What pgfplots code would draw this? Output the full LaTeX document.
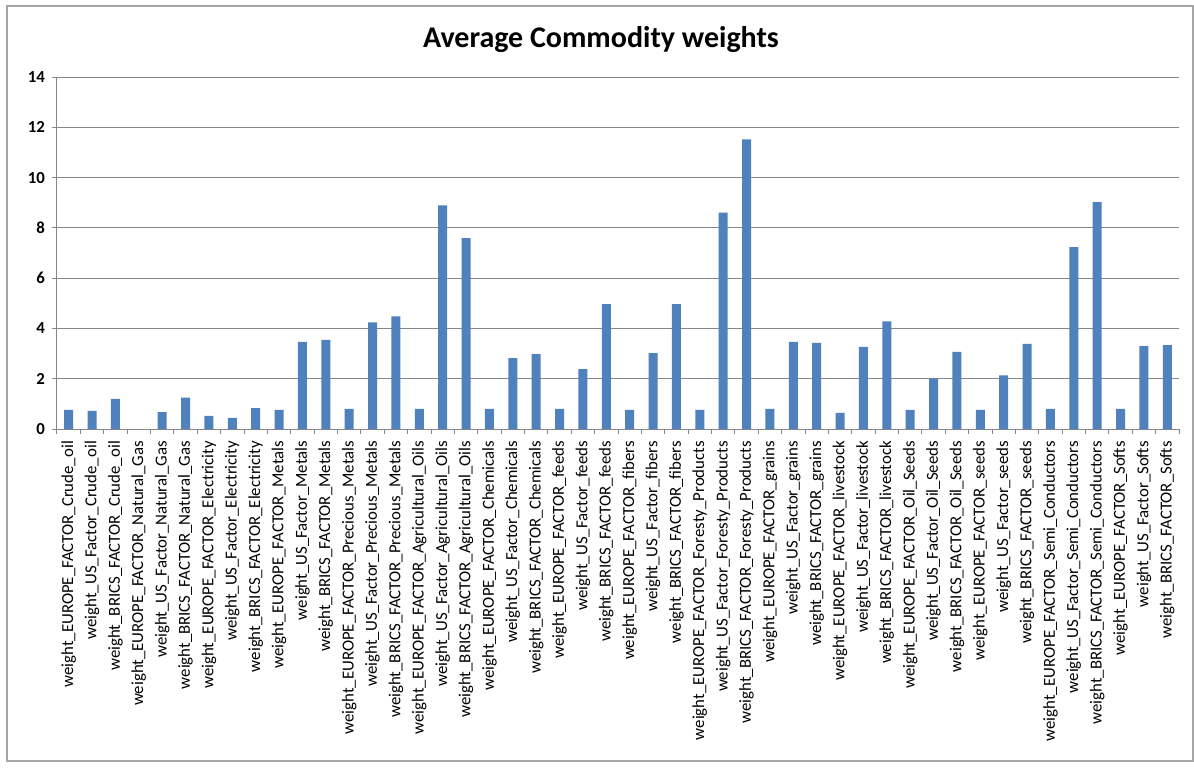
\documentclass[border=0pt]{standalone}
\usepackage{pgfplots}
\pgfplotsset{compat=1.18}
\usepackage{pgfplotstable}
\usepackage{fontspec}
\setmainfont{Carlito}
\definecolor{barblue}{HTML}{4F81BD}
\definecolor{gridgray}{HTML}{868686}

% average weight per factor, in the order of the x labels
\pgfplotstableread{
idx val
0 0.76
1 0.72
2 1.20
3 0
4 0.67
5 1.25
6 0.52
7 0.44
8 0.83
9 0.76
10 3.47
11 3.55
12 0.80
13 4.24
14 4.48
15 0.80
16 8.89
17 7.59
18 0.80
19 2.82
20 2.98
21 0.80
22 2.38
23 4.97
24 0.76
25 3.02
26 4.97
27 0.76
28 8.61
29 11.52
30 0.80
31 3.47
32 3.43
33 0.64
34 3.27
35 4.28
36 0.76
37 2.00
38 3.07
39 0.76
40 2.13
41 3.39
42 0.80
43 7.23
44 9.02
45 0.80
46 3.30
47 3.34
}\weights

\begin{document}
\begin{tikzpicture}
\path[fill=white] (-28.5pt,-169pt) rectangle (568.5pt,214.5pt);
\draw[gray!70, line width=0.6pt] (-25pt,-166pt) rectangle (568pt,211.5pt);
\begin{axis}[
  at={(0,0)}, anchor=south west,
  scale only axis,
  width=561pt, height=176pt,
  xmin=-0.5, xmax=47.5,
  ymin=0, ymax=14,
  ytick={0,2,...,14},
  xtick=data,
  xticklabels={
    weight\_EUROPE\_FACTOR\_Crude\_oil,
    weight\_US\_Factor\_Crude\_oil,
    weight\_BRICS\_FACTOR\_Crude\_oil,
    weight\_EUROPE\_FACTOR\_Natural\_Gas,
    weight\_US\_Factor\_Natural\_Gas,
    weight\_BRICS\_FACTOR\_Natural\_Gas,
    weight\_EUROPE\_FACTOR\_Electricity,
    weight\_US\_Factor\_Electricity,
    weight\_BRICS\_FACTOR\_Electricity,
    weight\_EUROPE\_FACTOR\_Metals,
    weight\_US\_Factor\_Metals,
    weight\_BRICS\_FACTOR\_Metals,
    weight\_EUROPE\_FACTOR\_Precious\_Metals,
    weight\_US\_Factor\_Precious\_Metals,
    weight\_BRICS\_FACTOR\_Precious\_Metals,
    weight\_EUROPE\_FACTOR\_Agricultural\_Oils,
    weight\_US\_Factor\_Agricultural\_Oils,
    weight\_BRICS\_FACTOR\_Agricultural\_Oils,
    weight\_EUROPE\_FACTOR\_Chemicals,
    weight\_US\_Factor\_Chemicals,
    weight\_BRICS\_FACTOR\_Chemicals,
    weight\_EUROPE\_FACTOR\_feeds,
    weight\_US\_Factor\_feeds,
    weight\_BRICS\_FACTOR\_feeds,
    weight\_EUROPE\_FACTOR\_fibers,
    weight\_US\_Factor\_fibers,
    weight\_BRICS\_FACTOR\_fibers,
    weight\_EUROPE\_FACTOR\_Foresty\_Products,
    weight\_US\_Factor\_Foresty\_Products,
    weight\_BRICS\_FACTOR\_Foresty\_Products,
    weight\_EUROPE\_FACTOR\_grains,
    weight\_US\_Factor\_grains,
    weight\_BRICS\_FACTOR\_grains,
    weight\_EUROPE\_FACTOR\_livestock,
    weight\_US\_Factor\_livestock,
    weight\_BRICS\_FACTOR\_livestock,
    weight\_EUROPE\_FACTOR\_Oil\_Seeds,
    weight\_US\_Factor\_Oil\_Seeds,
    weight\_BRICS\_FACTOR\_Oil\_Seeds,
    weight\_EUROPE\_FACTOR\_seeds,
    weight\_US\_Factor\_seeds,
    weight\_BRICS\_FACTOR\_seeds,
    weight\_EUROPE\_FACTOR\_Semi\_Conductors,
    weight\_US\_Factor\_Semi\_Conductors,
    weight\_BRICS\_FACTOR\_Semi\_Conductors,
    weight\_EUROPE\_FACTOR\_Softs,
    weight\_US\_Factor\_Softs,
    weight\_BRICS\_FACTOR\_Softs},
  x tick label style={rotate=90, anchor=east, font=\fontsize{8.4}{9}\selectfont},
  y tick label style={font=\fontsize{8.4}{9}\selectfont\bfseries},
  /pgf/number format/assume math mode=true,
  minor xtick={-0.5,0.5,...,47.5},
  tick align=outside,
  major tick length=2.5pt,
  minor tick length=2.5pt,
  major x tick style={draw=none},
  xtick pos=bottom, ytick pos=left,
  axis x line*=bottom, axis y line*=left,
  axis line style={gridgray, line width=0.5pt},
  tick style={gridgray, line width=0.5pt},
  ymajorgrids,
  major grid style={gridgray, line width=0.5pt},
  ybar, bar width=4.5pt,
  clip=false,
]
\addplot[fill=barblue, draw=none] table[x=idx, y=val] {\weights};
\end{axis}
\node[font=\fontsize{15}{17}\selectfont\bfseries] at (272pt,194.5pt) {Average Commodity weights};
\end{tikzpicture}
\end{document}
